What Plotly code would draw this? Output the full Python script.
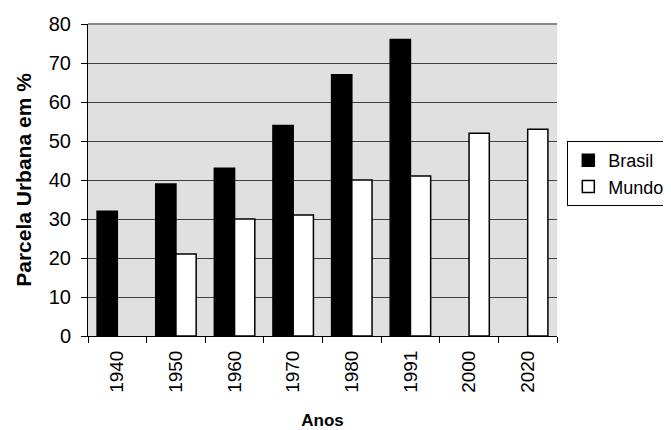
import plotly.graph_objects as go

anos = ["1940", "1950", "1960", "1970", "1980", "1991", "2000", "2020"]
brasil = [32, 39, 43, 54, 67, 76, None, None]
mundo = [None, 21, 30, 31, 40, 41, 52, 53]

FONT = "Liberation Sans, Arial, sans-serif"

fig = go.Figure()
fig.add_trace(go.Bar(x=anos, y=brasil, name="Brasil",
                     marker=dict(color="black", line=dict(color="black", width=1.5))))
fig.add_trace(go.Bar(x=anos, y=mundo, name="Mundo",
                     marker=dict(color="white", line=dict(color="black", width=1.5))))

fig.update_layout(
    width=663, height=422,
    margin=dict(l=80, r=114, t=16, b=94, autoexpand=False),
    paper_bgcolor="white",
    plot_bgcolor="#e0e0e0",
    barmode="group",
    bargap=0.31,
    bargroupgap=0.0,
    font=dict(family=FONT, size=18, color="black"),
    showlegend=True,
    legend=dict(x=1.022, y=0.625, xanchor="left", yanchor="top",
                bordercolor="black", borderwidth=1, bgcolor="white",
                font=dict(family=FONT, size=18, color="black"),
                itemwidth=30, tracegroupgap=4),
    xaxis=dict(
        type="category",
        tickangle=-90,
        ticks="outside", ticklen=6, tickcolor="black",
        tickson="boundaries",
        ticklabelstandoff=6,
        showline=True, linecolor="black", linewidth=1,
        showgrid=False,
        title=dict(text="<b>Anos</b>", font=dict(family=FONT, size=17), standoff=25),
        tickfont=dict(family=FONT, size=19),
    ),
    yaxis=dict(
        range=[0, 80], dtick=10,
        ticks="outside", ticklen=6, tickcolor="black",
        ticklabelstandoff=6,
        showline=True, linecolor="black", linewidth=1,
        showgrid=True, gridcolor="#404040", gridwidth=1,
        zeroline=False,
        title=dict(text="<b>Parcela Urbana em %</b>", font=dict(family=FONT, size=21), standoff=11),
        tickfont=dict(family=FONT, size=20),
    ),
)

fig.add_shape(type="line", xref="paper", yref="paper", x0=0, x1=1, y0=1, y1=1,
              line=dict(color="#888888", width=2))

fig.write_html("out.html")
